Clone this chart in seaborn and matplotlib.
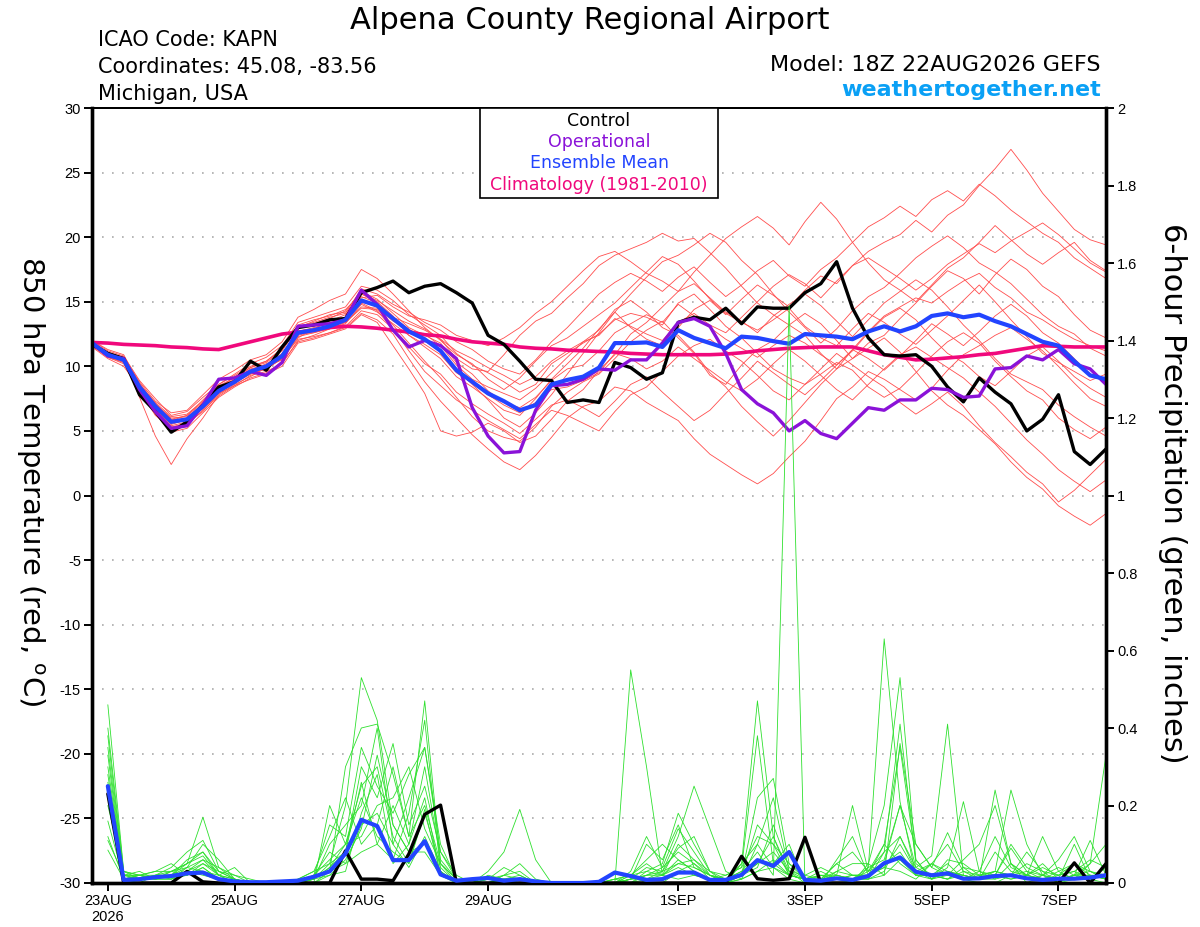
import numpy as np
import pandas as pd
import matplotlib
matplotlib.use("Agg")
import matplotlib.pyplot as plt
import seaborn as sns
from matplotlib.patches import Rectangle

# model run 18Z 22AUG2026, 6-hourly output out to 384h
run_start = pd.Timestamp("2026-08-22 18:00")
times = pd.date_range(run_start, periods=65, freq="6h")

tick_dates = pd.to_datetime(["2026-08-23", "2026-08-25", "2026-08-27", "2026-08-29",
                             "2026-09-01", "2026-09-03", "2026-09-05", "2026-09-07"])
tick_labels = ["23AUG\n2026", "25AUG", "27AUG", "29AUG", "1SEP", "3SEP", "5SEP", "7SEP"]

temp_ticks = [30, 25, 20, 15, 10, 5, 0, -5, -10, -15, -20, -25, -30]
precip_ticks = [2, 1.8, 1.6, 1.4, 1.2, 1, 0.8, 0.6, 0.4, 0.2, 0]
precip_tick_labels = ["2", "1.8", "1.6", "1.4", "1.2", "1", "0.8", "0.6", "0.4", "0.2", "0"]

# 850 hPa temperature (C)
control_t = [11.7, 11.0, 10.6, 7.8, 6.5, 4.9, 5.7, 7.0, 8.4, 8.8,
             10.4, 9.7, 11.5, 13.0, 13.2, 13.6, 13.7, 15.7, 16.1, 16.6,
             15.7, 16.2, 16.4, 15.7, 14.9, 12.4, 11.7, 10.4, 9.0, 8.9,
             7.2, 7.4, 7.2, 10.3, 9.9, 9.0, 9.5, 13.4, 13.8, 13.6,
             14.5, 13.3, 14.6, 14.5, 14.5, 15.7, 16.4, 18.1, 14.5, 12.2,
             10.9, 10.8, 10.9, 10.0, 8.4, 7.25, 9.1, 8.0, 7.1, 5.0,
             5.9, 7.8, 3.4, 2.4, 3.6]
oper_t = [11.8, 10.8, 10.6, 8.2, 6.5, 5.2, 5.4, 7.0, 9.0, 9.1,
          9.6, 9.3, 10.3, 13.1, 13.2, 13.3, 13.6, 15.9, 14.8, 12.8,
          11.5, 12.0, 11.6, 10.6, 6.8, 4.6, 3.3, 3.4, 6.6, 8.5,
          8.6, 9.0, 9.8, 9.7, 10.5, 10.5, 11.8, 13.4, 13.7, 13.1,
          11.0, 8.2, 7.1, 6.4, 5.0, 5.8, 4.8, 4.4, 5.6, 6.8,
          6.6, 7.4, 7.4, 8.3, 8.2, 7.6, 7.7, 9.8, 9.9, 10.8,
          10.5, 11.3, 10.2, 9.8, 8.6]
mean_t = [11.8, 10.9, 10.5, 8.4, 6.9, 5.7, 5.9, 6.9, 8.1, 8.8,
          9.6, 10.0, 10.8, 12.6, 12.8, 13.1, 13.6, 15.1, 14.7, 13.7,
          12.7, 12.1, 11.2, 9.7, 8.8, 7.9, 7.3, 6.6, 7.0, 8.6,
          8.95, 9.2, 9.9, 11.8, 11.8, 11.85, 11.5, 12.8, 12.2, 11.8,
          11.4, 12.3, 12.2, 11.95, 11.75, 12.5, 12.4, 12.3, 12.1, 12.7,
          13.1, 12.7, 13.1, 13.9, 14.1, 13.8, 14.0, 13.5, 13.1, 12.5,
          11.9, 11.6, 10.4, 9.3, 9.0]
clim_t = [11.85, 11.8, 11.7, 11.65, 11.6, 11.5, 11.45, 11.35, 11.3, 11.6,
          11.9, 12.2, 12.5, 12.65, 12.8, 13.0, 13.1, 13.05, 12.95, 12.8,
          12.65, 12.45, 12.35, 12.1, 11.9, 11.8, 11.7, 11.5, 11.4, 11.35,
          11.25, 11.2, 11.15, 11.1, 11.0, 10.95, 10.9, 10.9, 10.9, 10.9,
          10.95, 11.05, 11.2, 11.3, 11.4, 11.45, 11.5, 11.5, 11.5, 11.2,
          10.9, 10.7, 10.5, 10.55, 10.65, 10.75, 10.9, 11.0, 11.2, 11.4,
          11.6, 11.55, 11.5, 11.5, 11.5]

# ensemble members, temperature
t01 = [12.0, 11.2, 10.8, 8.9, 7.5, 6.2, 6.5, 7.6, 8.6, 9.4,
       10.2, 10.7, 11.6, 13.4, 13.8, 14.2, 14.6, 16.2, 15.9, 15.1,
       14.0, 13.2, 12.4, 11.0, 10.1, 9.5, 8.8, 8.0, 8.6, 10.2,
       11.0, 11.8, 12.5, 13.6, 14.1, 13.8, 13.2, 14.9, 15.6, 14.4,
       13.1, 12.2, 11.0, 9.8, 9.1, 8.6, 9.4, 10.3, 9.7, 8.4,
       7.6, 8.3, 9.5, 10.8, 11.9, 12.6, 11.8, 10.4, 9.2, 8.1,
       7.4, 6.0, 5.1, 4.4, 5.3]
t02 = [11.6, 10.7, 10.2, 8.0, 6.4, 5.0, 5.4, 6.8, 8.0, 8.9,
       9.5, 9.8, 10.6, 12.2, 12.9, 13.5, 14.0, 15.6, 15.0, 13.9,
       12.4, 11.5, 10.6, 9.2, 8.4, 7.5, 6.6, 6.2, 7.5, 9.0,
       10.2, 11.4, 12.9, 14.2, 13.0, 12.1, 11.6, 13.0, 14.4, 15.1,
       14.0, 15.2, 16.3, 15.5, 14.6, 15.9, 17.0, 16.4, 17.8, 18.9,
       19.6, 20.2, 21.3, 20.4, 21.7, 22.5, 24.0, 25.3, 26.8, 25.2,
       23.4, 22.0, 20.6, 19.8, 19.4]
t03 = [11.7, 10.8, 10.3, 8.2, 6.8, 5.3, 5.6, 6.5, 7.9, 8.5,
       9.3, 9.6, 10.2, 12.0, 12.4, 12.9, 13.4, 14.5, 14.4, 13.2,
       11.8, 10.4, 9.1, 7.6, 6.1, 5.0, 4.5, 4.2, 5.3, 6.9,
       8.0, 8.8, 9.4, 10.6, 11.9, 12.8, 13.5, 12.2, 11.0, 9.3,
       8.6, 10.1, 11.3, 12.0, 13.2, 14.1, 13.3, 12.0, 10.6, 11.4,
       12.2, 11.1, 9.6, 8.1, 7.0, 6.2, 5.1, 4.0, 2.6, 1.4,
       0.5, -0.8, -1.6, -2.3, -1.4]
t04 = [11.9, 11.0, 10.6, 7.6, 4.6, 2.4, 4.4, 6.0, 7.8, 8.6,
       9.2, 9.9, 10.9, 12.5, 12.6, 13.0, 13.8, 15.4, 14.9, 13.8,
       13.3, 12.8, 12.1, 10.6, 9.8, 9.6, 10.9, 12.4, 13.5, 14.1,
       15.3, 16.4, 17.8, 18.6, 19.1, 19.6, 20.3, 19.7, 19.9, 18.8,
       17.6, 16.2, 14.9, 14.0, 13.2, 12.4, 11.0, 9.8, 10.6, 11.8,
       12.4, 13.7, 14.9, 16.2, 17.4, 16.8, 15.6, 17.1, 18.3, 17.5,
       16.2, 15.4, 14.0, 12.8, 12.2]
t05 = [11.5, 10.6, 10.0, 8.3, 6.6, 5.6, 5.8, 6.7, 7.9, 8.7,
       9.4, 9.8, 10.6, 12.1, 12.3, 12.6, 13.0, 14.1, 13.6, 12.5,
       10.6, 8.8, 7.3, 6.0, 4.7, 3.6, 2.6, 2.0, 3.1, 4.5,
       6.0, 6.9, 7.3, 8.4, 8.1, 7.2, 6.5, 5.8, 4.4, 3.2,
       2.4, 1.6, 0.9, 1.7, 3.0, 4.2, 5.8, 7.5, 8.4, 9.6,
       9.0, 8.2, 7.4, 8.3, 9.7, 10.9, 11.6, 12.4, 13.0, 12.1,
       11.2, 10.0, 8.7, 7.5, 6.9]
t06 = [12.0, 11.3, 10.9, 8.6, 7.2, 6.1, 6.3, 7.3, 8.5, 9.1,
       9.9, 10.3, 11.2, 13.0, 13.5, 14.0, 14.2, 15.3, 15.5, 14.6,
       13.9, 13.6, 13.2, 12.4, 12.0, 11.6, 12.2, 13.0, 14.1, 15.0,
       16.2, 17.4, 18.5, 18.9, 18.1, 17.2, 16.6, 15.8, 17.3, 18.6,
       19.9, 20.8, 21.6, 20.7, 19.4, 21.2, 22.7, 21.4, 19.6, 18.0,
       16.7, 15.9, 15.0, 16.3, 17.6, 18.4, 19.6, 20.9, 19.8, 18.7,
       17.9, 18.8, 19.6, 18.2, 17.4]
t07 = [11.8, 10.9, 10.4, 8.5, 7.0, 5.9, 6.2, 7.2, 8.4, 9.0,
       9.7, 10.2, 10.9, 12.9, 13.3, 13.7, 14.3, 15.8, 15.2, 14.1,
       13.0, 12.4, 11.8, 10.3, 9.4, 8.1, 7.2, 6.8, 7.6, 8.9,
       9.8, 10.1, 11.2, 12.6, 13.3, 14.0, 13.4, 14.8, 13.9, 13.0,
       12.1, 11.4, 10.7, 11.6, 12.4, 11.8, 10.9, 10.1, 11.3, 12.7,
       13.9, 14.6, 15.3, 14.9, 15.8, 16.6, 17.2, 16.1, 15.3, 14.2,
       13.6, 12.8, 12.1, 11.6, 11.2]
t08 = [11.6, 10.8, 10.5, 8.1, 6.2, 5.2, 5.5, 6.6, 7.7, 8.5,
       9.0, 9.4, 10.0, 11.8, 12.1, 12.5, 12.9, 14.0, 13.4, 11.6,
       9.8, 7.9, 5.0, 4.6, 4.9, 5.6, 5.0, 4.1, 4.6, 5.9,
       7.3, 8.2, 9.7, 10.9, 12.5, 13.4, 14.6, 15.8, 16.4, 15.3,
       14.2, 13.5, 12.6, 13.9, 14.8, 15.6, 14.7, 13.5, 12.3, 13.6,
       14.9, 15.8, 16.7, 15.9, 14.6, 13.2, 12.0, 10.6, 9.4, 8.8,
       8.2, 7.0, 6.1, 5.3, 4.6]
t09 = [11.9, 11.1, 10.7, 8.8, 7.3, 6.4, 6.6, 7.8, 9.0, 9.7,
       10.5, 10.9, 11.9, 13.8, 14.4, 15.1, 15.6, 17.5, 16.8, 15.6,
       14.3, 13.0, 12.0, 10.9, 10.2, 9.0, 8.2, 9.1, 10.4, 11.6,
       12.2, 13.1, 14.0, 14.9, 16.1, 17.3, 18.5, 17.9, 16.6, 15.2,
       14.1, 13.4, 12.8, 13.6, 14.5, 13.1, 12.2, 11.6, 12.9, 14.1,
       13.4, 12.5, 11.7, 12.8, 13.9, 15.1, 16.3, 15.0, 13.6, 12.3,
       11.0, 10.3, 9.6, 8.9, 9.4]
t10 = [11.7, 10.9, 10.6, 8.3, 6.9, 5.8, 6.0, 7.0, 8.2, 8.8,
       9.5, 10.1, 10.7, 12.3, 12.6, 12.9, 13.3, 14.8, 14.2, 13.3,
       12.4, 11.7, 10.9, 9.5, 8.7, 7.8, 7.0, 6.4, 7.2, 8.2,
       8.4, 8.9, 9.5, 11.0, 10.6, 9.8, 10.4, 11.5, 10.6, 9.7,
       8.8, 8.1, 9.0, 10.2, 11.3, 10.4, 9.3, 8.2, 7.4, 8.6,
       9.8, 10.9, 11.5, 10.7, 9.9, 9.1, 8.0, 6.9, 5.6, 4.3,
       3.2, 2.0, 1.1, 0.3, 1.2]
t11 = [11.8, 11.0, 10.5, 8.4, 7.0, 5.5, 5.9, 7.0, 8.2, 9.0,
       9.8, 10.1, 11.0, 12.7, 13.0, 13.3, 13.6, 15.0, 14.6, 13.8,
       12.9, 12.0, 11.1, 9.8, 8.6, 7.4, 6.0, 5.3, 6.4, 7.8,
       9.4, 11.0, 12.6, 14.2, 15.6, 16.9, 18.1, 18.6, 19.4, 20.3,
       19.6, 18.2, 17.1, 15.6, 14.2, 13.0, 11.8, 12.9, 14.3, 15.4,
       16.1, 17.2, 18.4, 19.3, 20.1, 19.2, 18.0, 17.3, 16.4, 15.2,
       14.0, 13.1, 12.5, 11.4, 10.8]
t12 = [11.6, 10.7, 10.3, 8.6, 7.1, 5.9, 5.8, 6.9, 8.0, 8.7,
       9.6, 10.0, 10.5, 12.4, 12.7, 13.0, 13.5, 14.9, 14.3, 12.9,
       11.5, 10.2, 9.4, 8.0, 7.1, 6.3, 5.6, 4.8, 5.9, 7.0,
       7.4, 6.8, 6.1, 7.3, 8.6, 9.2, 8.0, 6.9, 5.8, 6.6,
       7.9, 9.1, 10.4, 9.5, 8.6, 7.8, 8.9, 10.1, 11.2, 12.6,
       13.8, 14.5, 13.6, 12.2, 11.0, 10.3, 9.2, 8.5, 9.6, 10.8,
       11.5, 10.4, 9.2, 8.3, 7.6]
t13 = [11.9, 11.1, 10.6, 8.7, 7.1, 6.0, 6.1, 7.1, 8.3, 9.2,
       9.9, 10.4, 11.3, 13.2, 13.6, 13.9, 14.4, 15.6, 15.1, 14.3,
       13.5, 12.9, 12.1, 11.2, 10.6, 9.9, 9.3, 8.6, 9.2, 10.4,
       11.2, 11.9, 12.4, 13.7, 13.1, 12.5, 12.0, 13.4, 14.1, 13.2,
       12.6, 13.8, 15.0, 16.2, 17.1, 16.4, 15.3, 16.6, 17.8, 18.4,
       17.6, 16.8, 15.9, 16.8, 17.9, 18.7, 19.5, 18.8, 19.7, 20.4,
       21.1, 20.2, 19.1, 18.0, 17.3]
t14 = [11.7, 10.8, 10.4, 8.2, 6.7, 5.4, 5.7, 6.8, 8.0, 8.8,
       9.4, 9.9, 10.6, 12.5, 12.7, 13.1, 13.4, 14.6, 14.5, 13.5,
       12.8, 12.5, 11.6, 10.1, 9.0, 8.4, 7.9, 7.4, 8.3, 9.5,
       10.7, 11.9, 12.8, 14.4, 15.1, 14.2, 13.0, 12.4, 11.1, 9.5,
       8.4, 6.9, 5.7, 4.6, 5.8, 7.2, 8.6, 9.8, 11.3, 10.6,
       9.7, 10.8, 12.0, 13.3, 12.5, 11.6, 12.7, 13.9, 14.8, 13.9,
       12.6, 11.8, 10.6, 9.4, 8.9]
t15 = [11.8, 11.0, 10.7, 8.5, 6.8, 5.8, 6.2, 7.4, 8.6, 9.3,
       10.0, 10.4, 11.4, 13.1, 13.4, 13.8, 14.1, 16.0, 15.6, 14.8,
       14.2, 13.4, 12.8, 11.9, 11.3, 10.4, 9.8, 9.4, 10.5, 11.9,
       13.0, 14.3, 15.6, 16.5, 17.2, 16.6, 15.8, 16.9, 17.7, 16.5,
       15.4, 16.3, 17.4, 18.2, 17.0, 16.2, 17.5, 18.4, 19.6, 20.8,
       21.5, 22.4, 21.6, 22.9, 23.6, 22.8, 24.1, 23.2, 22.1, 21.2,
       20.3, 19.6, 18.4, 17.6, 16.8]
t16 = [11.7, 10.9, 10.5, 8.0, 6.3, 4.9, 5.2, 6.4, 7.6, 8.4,
       9.1, 9.5, 10.3, 11.9, 12.2, 12.6, 13.1, 14.3, 14.0, 12.9,
       11.2, 9.6, 8.5, 7.4, 6.6, 5.8, 5.1, 4.4, 5.5, 6.6,
       6.2, 5.6, 5.0, 6.5, 7.8, 8.4, 9.6, 10.8, 11.6, 12.1,
       11.2, 10.4, 9.3, 8.1, 7.4, 8.6, 9.8, 11.0, 10.1, 9.2,
       8.4, 7.2, 6.3, 7.1, 8.0, 6.9, 5.4, 4.1, 3.0, 1.8,
       0.9, -0.5, 0.4, 1.6, 2.8]

# 6-hour precipitation (inches), valid from 23AUG 00Z
control_p = [0.23, 0.0, 0.0, 0.0, 0.0, 0.03, 0.003, 0.0,
             0.0, 0.0, 0.0, 0.0, 0.0, 0.0, 0.0, 0.083,
             0.01, 0.01, 0.006, 0.075, 0.177, 0.201, 0.0, 0.0,
             0.0, 0.0, 0.0, 0.0, 0.0, 0.0, 0.0, 0.0,
             0.0, 0.0, 0.0, 0.0, 0.0, 0.0, 0.0, 0.0,
             0.069, 0.011, 0.007, 0.011, 0.118, 0.0, 0.0, 0.0,
             0.0, 0.0, 0.0, 0.0, 0.0, 0.0, 0.0, 0.0,
             0.0, 0.0, 0.0, 0.0, 0.0, 0.052, 0.0, 0.05]
mean_p = [0.25, 0.008, 0.01, 0.015, 0.018, 0.025, 0.027, 0.01,
          0.004, 0.002, 0.002, 0.004, 0.006, 0.016, 0.03, 0.076,
          0.163, 0.147, 0.059, 0.059, 0.108, 0.022, 0.006, 0.01,
          0.013, 0.006, 0.01, 0.004, 0.0, 0.0, 0.0, 0.003,
          0.027, 0.018, 0.008, 0.01, 0.027, 0.027, 0.008, 0.008,
          0.021, 0.059, 0.044, 0.08, 0.008, 0.006, 0.012, 0.008,
          0.018, 0.051, 0.066, 0.029, 0.02, 0.025, 0.011, 0.012,
          0.018, 0.02, 0.012, 0.008, 0.011, 0.011, 0.014, 0.02]

p01 = [0.46, 0.03, 0.02, 0.01, 0.03, 0.05, 0.17, 0.04,
       0.01, 0.0, 0.0, 0.0, 0.0, 0.01, 0.05, 0.20,
       0.53, 0.42, 0.15, 0.08, 0.10, 0.03, 0.0, 0.0,
       0.0, 0.0, 0.01, 0.0, 0.0, 0.0, 0.0, 0.0,
       0.0, 0.02, 0.0, 0.0, 0.03, 0.05, 0.02, 0.0,
       0.05, 0.47, 0.12, 0.03, 0.0, 0.02, 0.01, 0.0,
       0.04, 0.63, 0.21, 0.02, 0.02, 0.05, 0.01, 0.0,
       0.0, 0.02, 0.08, 0.03, 0.0, 0.02, 0.01, 0.04]
p02 = [0.38, 0.02, 0.01, 0.02, 0.04, 0.08, 0.11, 0.03,
       0.01, 0.0, 0.0, 0.0, 0.0, 0.0, 0.03, 0.30,
       0.40, 0.41, 0.28, 0.12, 0.47, 0.05, 0.0, 0.0,
       0.01, 0.04, 0.02, 0.0, 0.0, 0.0, 0.0, 0.0,
       0.01, 0.0, 0.03, 0.05, 0.18, 0.10, 0.03, 0.0,
       0.02, 0.22, 0.27, 0.05, 0.01, 0.0, 0.03, 0.05,
       0.05, 0.20, 0.53, 0.06, 0.01, 0.03, 0.02, 0.01,
       0.24, 0.05, 0.0, 0.02, 0.06, 0.12, 0.03, 0.02]
p03 = [0.33, 0.01, 0.0, 0.02, 0.02, 0.03, 0.06, 0.02,
       0.04, 0.0, 0.0, 0.0, 0.0, 0.02, 0.15, 0.12,
       0.35, 0.25, 0.18, 0.28, 0.35, 0.10, 0.01, 0.0,
       0.02, 0.01, 0.0, 0.0, 0.0, 0.0, 0.0, 0.0,
       0.0, 0.55, 0.30, 0.02, 0.01, 0.02, 0.01, 0.02,
       0.04, 0.38, 0.05, 0.10, 0.0, 0.0, 0.02, 0.20,
       0.03, 0.08, 0.41, 0.05, 0.02, 0.01, 0.03, 0.02,
       0.03, 0.24, 0.10, 0.02, 0.0, 0.01, 0.05, 0.33]
p04 = [0.30, 0.02, 0.03, 0.01, 0.01, 0.04, 0.10, 0.06,
       0.01, 0.0, 0.0, 0.0, 0.0, 0.0, 0.20, 0.10,
       0.25, 0.30, 0.12, 0.05, 0.19, 0.02, 0.0, 0.0,
       0.03, 0.08, 0.19, 0.06, 0.0, 0.0, 0.0, 0.0,
       0.0, 0.01, 0.02, 0.03, 0.12, 0.25, 0.14, 0.03,
       0.01, 0.10, 0.04, 0.02, 0.01, 0.0, 0.0, 0.0,
       0.05, 0.02, 0.36, 0.10, 0.04, 0.13, 0.04, 0.01,
       0.02, 0.01, 0.02, 0.12, 0.03, 0.05, 0.02, 0.01]
p05 = [0.26, 0.01, 0.02, 0.03, 0.05, 0.02, 0.04, 0.01,
       0.0, 0.0, 0.0, 0.0, 0.01, 0.03, 0.05, 0.08,
       0.30, 0.22, 0.36, 0.15, 0.25, 0.08, 0.02, 0.0,
       0.0, 0.02, 0.01, 0.0, 0.0, 0.0, 0.0, 0.0,
       0.0, 0.01, 0.10, 0.06, 0.15, 0.04, 0.02, 0.01,
       0.03, 0.08, 0.02, 1.49, 0.0, 0.01, 0.05, 0.02,
       0.01, 0.08, 0.12, 0.04, 0.07, 0.41, 0.02, 0.01,
       0.08, 0.03, 0.02, 0.01, 0.01, 0.10, 0.01, 0.0]
p06 = [0.20, 0.03, 0.01, 0.02, 0.02, 0.06, 0.08, 0.03,
       0.02, 0.01, 0.0, 0.0, 0.0, 0.01, 0.10, 0.15,
       0.20, 0.40, 0.10, 0.04, 0.12, 0.03, 0.0, 0.0,
       0.01, 0.02, 0.05, 0.01, 0.0, 0.0, 0.0, 0.0,
       0.0, 0.03, 0.12, 0.04, 0.08, 0.05, 0.01, 0.0,
       0.02, 0.05, 0.08, 0.03, 0.01, 0.01, 0.03, 0.02,
       0.02, 0.10, 0.35, 0.06, 0.01, 0.04, 0.21, 0.03,
       0.02, 0.09, 0.03, 0.01, 0.02, 0.03, 0.01, 0.02]
p07 = [0.11, 0.02, 0.02, 0.01, 0.03, 0.04, 0.03, 0.02,
       0.0, 0.0, 0.0, 0.0, 0.0, 0.02, 0.08, 0.05,
       0.15, 0.18, 0.10, 0.22, 0.35, 0.08, 0.01, 0.0,
       0.0, 0.01, 0.0, 0.0, 0.0, 0.0, 0.0, 0.0,
       0.01, 0.02, 0.05, 0.02, 0.10, 0.06, 0.02, 0.01,
       0.05, 0.10, 0.22, 0.03, 0.02, 0.04, 0.02, 0.01,
       0.03, 0.05, 0.08, 0.02, 0.05, 0.02, 0.01, 0.03,
       0.12, 0.04, 0.02, 0.01, 0.01, 0.02, 0.11, 0.02]
p08 = [0.085, 0.01, 0.01, 0.02, 0.01, 0.03, 0.05, 0.02,
       0.01, 0.0, 0.0, 0.0, 0.0, 0.01, 0.02, 0.03,
       0.18, 0.28, 0.05, 0.10, 0.22, 0.02, 0.0, 0.0,
       0.01, 0.0, 0.0, 0.0, 0.0, 0.0, 0.0, 0.0,
       0.0, 0.0, 0.01, 0.02, 0.06, 0.03, 0.01, 0.0,
       0.01, 0.03, 0.06, 0.02, 0.01, 0.0, 0.06, 0.12,
       0.02, 0.04, 0.03, 0.01, 0.05, 0.03, 0.02, 0.01,
       0.03, 0.02, 0.05, 0.03, 0.02, 0.05, 0.03, 0.01]
p09 = [0.40, 0.03, 0.02, 0.03, 0.03, 0.05, 0.07, 0.02,
       0.0, 0.0, 0.0, 0.0, 0.01, 0.03, 0.12, 0.22,
       0.10, 0.15, 0.30, 0.12, 0.20, 0.05, 0.01, 0.0,
       0.0, 0.02, 0.03, 0.0, 0.0, 0.0, 0.0, 0.0,
       0.0, 0.02, 0.06, 0.10, 0.06, 0.03, 0.01, 0.0,
       0.02, 0.15, 0.10, 0.02, 0.01, 0.02, 0.01, 0.01,
       0.04, 0.06, 0.20, 0.10, 0.04, 0.02, 0.06, 0.10,
       0.20, 0.05, 0.02, 0.04, 0.02, 0.03, 0.06, 0.04]
p10 = [0.23, 0.02, 0.01, 0.01, 0.02, 0.04, 0.06, 0.04,
       0.02, 0.0, 0.0, 0.0, 0.0, 0.02, 0.06, 0.10,
       0.22, 0.12, 0.08, 0.05, 0.18, 0.04, 0.0, 0.0,
       0.0, 0.01, 0.0, 0.0, 0.0, 0.0, 0.0, 0.0,
       0.0, 0.01, 0.02, 0.04, 0.14, 0.08, 0.02, 0.01,
       0.03, 0.06, 0.05, 0.02, 0.01, 0.02, 0.02, 0.01,
       0.01, 0.03, 0.12, 0.03, 0.05, 0.10, 0.03, 0.01,
       0.02, 0.01, 0.02, 0.05, 0.01, 0.02, 0.02, 0.01]
p11 = [0.28, 0.01, 0.02, 0.02, 0.03, 0.02, 0.05, 0.03,
       0.01, 0.0, 0.0, 0.0, 0.0, 0.01, 0.04, 0.10,
       0.12, 0.20, 0.22, 0.30, 0.14, 0.05, 0.01, 0.0,
       0.0, 0.0, 0.01, 0.0, 0.0, 0.0, 0.0, 0.0,
       0.0, 0.01, 0.04, 0.03, 0.09, 0.12, 0.03, 0.02,
       0.04, 0.12, 0.10, 0.05, 0.02, 0.01, 0.05, 0.08,
       0.03, 0.10, 0.05, 0.02, 0.01, 0.06, 0.05, 0.02,
       0.03, 0.02, 0.03, 0.02, 0.04, 0.02, 0.05, 0.10]
p12 = [0.35, 0.02, 0.02, 0.01, 0.02, 0.05, 0.08, 0.02,
       0.01, 0.0, 0.0, 0.0, 0.0, 0.02, 0.03, 0.05,
       0.08, 0.10, 0.20, 0.10, 0.30, 0.06, 0.01, 0.0,
       0.0, 0.01, 0.02, 0.0, 0.0, 0.0, 0.0, 0.0,
       0.01, 0.02, 0.03, 0.02, 0.05, 0.06, 0.03, 0.01,
       0.02, 0.04, 0.15, 0.04, 0.01, 0.03, 0.01, 0.02,
       0.02, 0.05, 0.20, 0.04, 0.02, 0.01, 0.04, 0.03,
       0.01, 0.05, 0.02, 0.01, 0.03, 0.01, 0.02, 0.02]
p13 = [0.16, 0.01, 0.01, 0.01, 0.01, 0.02, 0.04, 0.01,
       0.0, 0.0, 0.0, 0.0, 0.0, 0.0, 0.02, 0.06,
       0.14, 0.33, 0.15, 0.08, 0.08, 0.02, 0.0, 0.0,
       0.0, 0.0, 0.0, 0.0, 0.0, 0.0, 0.0, 0.0,
       0.0, 0.0, 0.02, 0.02, 0.04, 0.02, 0.01, 0.0,
       0.01, 0.03, 0.04, 0.01, 0.0, 0.01, 0.02, 0.01,
       0.01, 0.02, 0.06, 0.02, 0.02, 0.01, 0.02, 0.01,
       0.01, 0.02, 0.01, 0.02, 0.01, 0.01, 0.02, 0.01]
p14 = [0.12, 0.01, 0.02, 0.01, 0.02, 0.03, 0.02, 0.01,
       0.0, 0.0, 0.0, 0.0, 0.0, 0.01, 0.04, 0.08,
       0.26, 0.10, 0.06, 0.18, 0.42, 0.03, 0.0, 0.0,
       0.0, 0.01, 0.01, 0.0, 0.0, 0.0, 0.0, 0.0,
       0.0, 0.01, 0.01, 0.03, 0.05, 0.04, 0.02, 0.0,
       0.02, 0.05, 0.12, 0.02, 0.01, 0.01, 0.01, 0.02,
       0.02, 0.04, 0.10, 0.03, 0.01, 0.02, 0.01, 0.02,
       0.02, 0.10, 0.04, 0.02, 0.01, 0.02, 0.03, 0.01]

temp_members = [t01, t02, t03, t04, t05, t06, t07, t08,
                t09, t10, t11, t12, t13, t14, t15, t16]
precip_members = [p01, p02, p03, p04, p05, p06, p07,
                  p08, p09, p10, p11, p12, p13, p14]

RED = "#ff4d4d"
GREEN = "#2ee02e"
PURPLE = "#8a12d8"
BLUE = "#2244ff"
PINK = "#f0087c"
HEAD_FONT = ["DejaVu Sans"]


def longForm(members, tvals, col):
    rows = []
    for k, m in enumerate(members):
        for t, v in zip(tvals, m):
            rows.append((t, v, k))
    return pd.DataFrame(rows, columns=["time", col, "member"])


sns.set_style("white")
plt.rcParams["font.family"] = ["Liberation Sans", "DejaVu Sans"]
plt.rcParams["mathtext.default"] = "regular"
for key in ("text.color", "axes.labelcolor", "xtick.color", "ytick.color"):
    plt.rcParams[key] = "black"

fig = plt.figure(figsize=(12, 9.27), dpi=100)
ax = fig.add_axes([92 / 1200, 1 - 883 / 927, 1014 / 1200, 775 / 927])

temp_df = longForm(temp_members, times, "temp")
sns.lineplot(data=temp_df, x="time", y="temp", units="member", estimator=None,
             color=RED, linewidth=0.6, ax=ax, legend=False, zorder=2)
sns.lineplot(x=times, y=clim_t, color=PINK, linewidth=2.6, ax=ax, zorder=3)
sns.lineplot(x=times, y=control_t, color="black", linewidth=2.4, ax=ax, zorder=4)
sns.lineplot(x=times, y=oper_t, color=PURPLE, linewidth=2.4, ax=ax, zorder=5)
sns.lineplot(x=times, y=mean_t, color=BLUE, linewidth=3.0, ax=ax, zorder=6)

ax.set_ylim(-30, 30)
ax.set_xlim(times[0], times[-1])
ax.set_yticks(temp_ticks)
ax.set_yticklabels([str(v) for v in temp_ticks])
ax.yaxis.grid(True, linestyle=(0, (1, 5)), color="#aaaaaa", linewidth=1.2)
ax.xaxis.grid(False)
ax.set_axisbelow(True)
ax.set_xlabel("")
ax.set_ylabel("")

ax2 = ax.twinx()
precip_df = longForm(precip_members, times[1:], "precip")
sns.lineplot(data=precip_df, x="time", y="precip", units="member", estimator=None,
             color=GREEN, linewidth=0.6, ax=ax2, legend=False, zorder=2)
sns.lineplot(x=times[1:], y=control_p, color="black", linewidth=2.4, ax=ax2, zorder=4)
sns.lineplot(x=times[1:], y=mean_p, color=BLUE, linewidth=3.0, ax=ax2, zorder=5)
ax2.set_ylim(0, 2)
ax2.set_yticks(precip_ticks)
ax2.set_yticklabels(precip_tick_labels)
ax2.set_ylabel("")
ax2.grid(False)

ax.set_xticks(tick_dates)
ax.set_xticklabels(tick_labels)

for a in (ax, ax2):
    for side in ("left", "bottom", "right"):
        a.spines[side].set_linewidth(2.4)
        a.spines[side].set_color("black")
    a.spines["top"].set_linewidth(1.4)
    a.spines["top"].set_color("black")
    a.tick_params(axis="both", direction="out", length=6, width=1.4,
                  labelsize=10.5, color="black", labelcolor="black", pad=2)
ax.tick_params(axis="y", left=True, right=False)
ax.tick_params(axis="x", bottom=True)
ax2.tick_params(axis="y", right=True, left=False)

# legend box
ax2.add_patch(Rectangle((0.3826, 0.884), 0.2347, 0.116, transform=ax2.transAxes,
                        facecolor="white", edgecolor="black", linewidth=1.2,
                        zorder=10, clip_on=False))
legend_items = [("Control", "black", 0.983), ("Operational", PURPLE, 0.956),
                ("Ensemble Mean", BLUE, 0.929), ("Climatology (1981-2010)", PINK, 0.901)]
for txt, col, yy in legend_items:
    ax2.text(0.5, yy, txt, color=col, fontsize=12.5, ha="center", va="center",
             family=HEAD_FONT, transform=ax2.transAxes, zorder=11)

# header texts
fig.text(590 / 1200, 1 - 29 / 927, "Alpena County Regional Airport", fontsize=22,
         family=HEAD_FONT, ha="center", va="baseline")
fig.text(98 / 1200, 1 - 46 / 927, "ICAO Code: KAPN", fontsize=15, family=HEAD_FONT,
         ha="left", va="baseline")
fig.text(98 / 1200, 1 - 73 / 927, "Coordinates: 45.08, -83.56", fontsize=15,
         family=HEAD_FONT, ha="left", va="baseline")
fig.text(98 / 1200, 1 - 100 / 927, "Michigan, USA", fontsize=15, family=HEAD_FONT,
         ha="left", va="baseline")
fig.text(1101 / 1200, 1 - 71 / 927, "Model: 18Z 22AUG2026 GEFS", fontsize=16,
         family=HEAD_FONT, ha="right", va="baseline")
fig.text(1101 / 1200, 1 - 96 / 927, "weathertogether.net", fontsize=16, fontweight="bold",
         family=HEAD_FONT, color="#0aa0f5", ha="right", va="baseline")

fig.text(30 / 1200, 1 - 481 / 927, "850 hPa Temperature (red, $^{o}$C)", fontsize=21,
         family=HEAD_FONT, rotation=270, ha="center", va="center")
fig.text(1172 / 1200, 1 - 493 / 927, "6-hour Precipitation (green, inches)", fontsize=22,
         family=HEAD_FONT, rotation=270, ha="center", va="center")

fig.savefig("out.png", dpi=100)
